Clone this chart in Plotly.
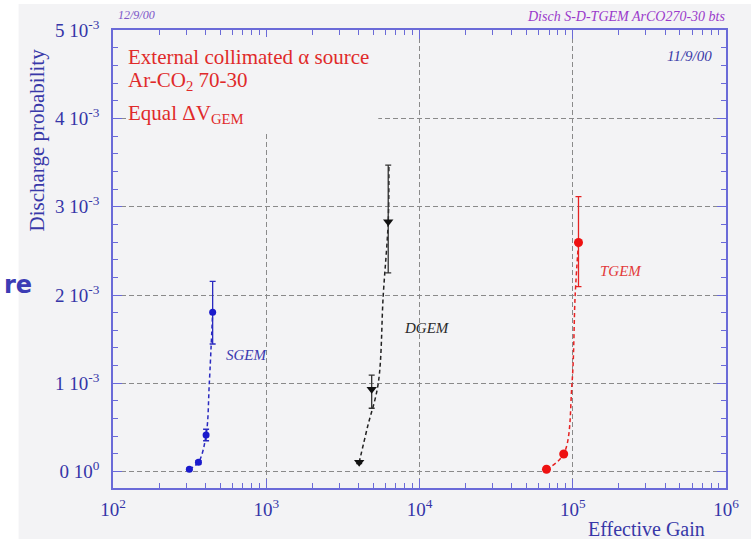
import plotly.graph_objects as go

# ---- measured points (effective gain, discharge probability) ----
sgem_gain = [315, 361, 405, 447]
sgem_prob = [0.027e-3, 0.106e-3, 0.415e-3, 1.805e-3]
sgem_err_hi = [0.012e-3, 0.02e-3, 0.065e-3, 0.35e-3]
sgem_err_lo = [0.012e-3, 0.02e-3, 0.065e-3, 0.36e-3]

dgem_gain = [4040, 4875, 6250]
dgem_prob = [0.106e-3, 0.933e-3, 2.83e-3]
dgem_err_hi = [0.015e-3, 0.16e-3, 0.64e-3]
dgem_err_lo = [0.015e-3, 0.215e-3, 0.58e-3]

tgem_gain = [67400, 87300, 109000]
tgem_prob = [0.027e-3, 0.2e-3, 2.594e-3]
tgem_err_hi = [0.012e-3, 0.02e-3, 0.52e-3]
tgem_err_lo = [0.012e-3, 0.02e-3, 0.50e-3]

# ---- fitted trend curves ----
sgem_fit_gain = [315, 361, 405, 425, 447]
sgem_fit_prob = [0.027e-3, 0.106e-3, 0.415e-3, 1.0e-3, 1.805e-3]
dgem_fit_gain = [4040, 4570, 5380, 5800, 6250, 6310]
dgem_fit_prob = [0.106e-3, 0.5e-3, 1.0e-3, 2.0e-3, 2.83e-3, 3.47e-3]
tgem_fit_gain = [67400, 87300, 98900, 103700, 109000]
tgem_fit_prob = [0.027e-3, 0.2e-3, 1.0e-3, 2.0e-3, 2.594e-3]

# ---- axis ticks ----
x_tickvals = [1e2, 1e3, 1e4, 1e5, 1e6]
x_ticktext = ["10<sup>2</sup>", "10<sup>3</sup>", "10<sup>4</sup>", "10<sup>5</sup>", "10<sup>6</sup>"]
y_tickvals = [0, 1e-3, 2e-3, 3e-3, 4e-3, 5e-3]
y_ticktext = ["0 10<sup>0</sup>", "1 10<sup>-3</sup>", "2 10<sup>-3</sup>",
              "3 10<sup>-3</sup>", "4 10<sup>-3</sup>", "5 10<sup>-3</sup>"]
x_minor = [m * 10 ** e for e in range(2, 6) for m in range(2, 10)]

# ---- page geometry (pixels) ----
W, H = 751, 539
L, R, T, B = 113, 730, 30, 488
PW, PH = R - L, B - T


def px(x):
    return (x - L) / PW


def py(y):
    return (B - y) / PH


AXIS = "#6a6ad8"
TICKTXT = "#3535a8"
BG = "#f3f3f5"
SERIF = "Liberation Serif, Times New Roman, serif"

fig = go.Figure()


def add_fit(gx, gy, color):
    fig.add_trace(go.Scatter(x=gx, y=gy, mode="lines", line_shape="spline",
                             line=dict(color=color, width=1.5, dash="4px,3px"),
                             hoverinfo="skip", showlegend=False))


def add_points(gx, gy, hi, lo, color, symbol, size, ecolor):
    fig.add_trace(go.Scatter(
        x=gx, y=gy, mode="markers",
        marker=dict(color=color, symbol=symbol, size=size, line=dict(width=0)),
        error_y=dict(type="data", symmetric=False, array=hi, arrayminus=lo,
                     color=ecolor, thickness=1.3, width=3),
        showlegend=False))


add_fit(sgem_fit_gain, sgem_fit_prob, "#2a2ac0")
add_fit(dgem_fit_gain, dgem_fit_prob, "#222222")
add_fit(tgem_fit_gain, tgem_fit_prob, "#e52222")
add_points(sgem_gain, sgem_prob, sgem_err_hi, sgem_err_lo, "#1a1acc", "circle", 7, "#2a2ac0")
add_points(dgem_gain, dgem_prob, dgem_err_hi, dgem_err_lo, "#111111", "triangle-down", 9, "#333333")
add_points(tgem_gain, tgem_prob, tgem_err_hi, tgem_err_lo, "#ee1111", "circle", 9, "#e52222")

axis_common = dict(
    showline=True, linecolor=AXIS, linewidth=1.5, mirror="ticks",
    ticks="inside", ticklen=9, tickcolor=AXIS, tickwidth=1,
    showgrid=True, gridcolor="#8a8a8a", gridwidth=1, griddash="5px,3px",
    zeroline=False,
    tickfont=dict(family=SERIF, size=19, color=TICKTXT),
)

fig.update_xaxes(type="log", range=[2, 6], tickmode="array",
                 tickvals=x_tickvals, ticktext=x_ticktext, ticklabelstandoff=3,
                 minor=dict(ticks="inside", ticklen=5, tickcolor=AXIS,
                            tickvals=x_minor, showgrid=False),
                 **axis_common)
fig.update_yaxes(range=[-0.185e-3, 5e-3], tickmode="array",
                 tickvals=y_tickvals, ticktext=y_ticktext, ticklabelstandoff=8,
                 minor=dict(ticks="inside", ticklen=5, tickcolor=AXIS,
                            dtick=0.2e-3, tick0=0, showgrid=False),
                 **axis_common)

shapes = [
    # grey page panel
    dict(type="rect", xref="paper", yref="paper", layer="below",
         x0=px(18), x1=px(W + 5), y0=py(H + 5), y1=py(4),
         fillcolor=BG, line=dict(width=0)),
    # blank area behind the run description
    dict(type="rect", xref="paper", yref="paper", layer="above",
         x0=px(129), x1=px(380), y0=py(132), y1=py(37),
         fillcolor=BG, line=dict(width=0)),
]

red = "#e02a2a"
ann = []


def text(s, x, y, size, color, xanchor="center", italic=False, angle=0, bold=False, family=SERIF):
    ann.append(dict(text=s, x=px(x), y=py(y), xref="paper", yref="paper",
                    xanchor=xanchor, yanchor="middle", showarrow=False,
                    textangle=angle,
                    font=dict(family=family, size=size, color=color,
                              style="italic" if italic else "normal",
                              weight="bold" if bold else "normal")))


text("External collimated α source", 126, 57, 21, red, xanchor="left")
text("Ar-CO<sub>2</sub> 70-30", 126, 81, 21, red, xanchor="left")
text("Equal ΔV<sub>GEM</sub>", 126, 114, 21, red, xanchor="left")

text("12/9/00", 137, 15, 12, "#7b55c8", italic=True)
text("Disch S-D-TGEM ArCO270-30 bts", 731, 16, 14, "#9a3acb", xanchor="right", italic=True)
text("11/9/00", 718, 56, 15, "#3a3aa8", xanchor="right", italic=True)

text("SGEM", 247, 355, 15, "#3a3ab0", italic=True)
text("DGEM", 429, 328, 15, "#2a2a2a", italic=True)
text("TGEM", 624, 271, 15, "#e23a3a", italic=True)

text("Discharge probability", 37, 140, 21, "#3838a8", angle=-90)
text("Effective Gain", 650, 529, 20, "#3838a8")
text("re", 1, 285, 24, "#3c3cb4", xanchor="left", bold=True, family="DejaVu Sans")

fig.update_layout(
    width=W, height=H, autosize=False,
    margin=dict(l=L, r=W - R, t=T, b=H - B, pad=0),
    paper_bgcolor="white", plot_bgcolor=BG,
    shapes=shapes, annotations=ann, showlegend=False,
)

fig.write_html("out.html")
